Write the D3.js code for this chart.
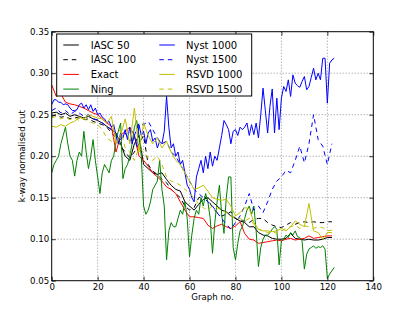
<!DOCTYPE html>
<html>
<head>
<meta charset="utf-8">
<script src="https://cdn.jsdelivr.net/npm/d3@7"></script>
<style>
  body { margin: 0; background: #fff; }
  text { font-family: "DejaVu Sans", sans-serif; fill: #000; }
</style>
</head>
<body>
<div id="chart"></div>
<script>
// values; x = index * step
const iasc50 = [0.252,0.253,0.250,0.252,0.248,0.250,0.248,0.246,0.248,0.245,0.243,0.240,0.236,0.232,0.228,0.215,0.200,0.195,0.215,0.225,
  0.190,0.185,0.180,0.178,0.180,0.172,0.165,0.160,0.158,0.145,0.140,0.135,0.142,0.148,0.150,0.145,0.140,0.135,0.133,0.128,
  0.125,0.122,0.120,0.115,0.115,0.108,0.105,0.104,0.101,0.100,0.100,0.101,0.107,0.101,0.100,0.099,0.100,0.099,0.099,0.100,0.102,0.102];
const iasc100 = [0.248,0.250,0.247,0.248,0.245,0.247,0.246,0.244,0.245,0.242,0.240,0.238,0.235,0.228,0.222,0.212,0.205,0.198,0.205,0.215,
  0.225,0.190,0.182,0.178,0.172,0.168,0.160,0.155,0.150,0.140,0.135,0.138,0.150,0.152,0.148,0.138,0.132,0.128,0.130,0.133,
  0.125,0.122,0.122,0.120,0.124,0.125,0.125,0.120,0.117,0.115,0.114,0.117,0.120,0.118,0.120,0.121,0.120,0.121,0.120,0.120,0.121,0.121];
const exact = [0.286,0.272,0.275,0.265,0.263,0.262,0.260,0.258,0.255,0.252,0.250,0.245,0.240,0.236,0.205,0.225,0.230,0.235,0.225,0.200,
  0.195,0.188,0.180,0.175,0.170,0.163,0.160,0.155,0.145,0.135,0.127,0.127,0.126,0.125,0.117,0.113,0.116,0.118,0.115,0.113,
  0.116,0.121,0.107,0.100,0.099,0.095,0.096,0.097,0.098,0.099,0.098,0.100,0.101,0.099,0.100,0.101,0.104,0.101,0.102,0.103,0.104,0.104];
const ning = [0.180,0.190,0.195,0.200,0.215,0.225,0.235,0.215,0.200,0.195,0.176,0.195,0.205,0.200,0.230,0.205,0.185,0.200,0.220,0.195,
  0.175,0.155,0.180,0.190,0.185,0.180,0.195,0.200,0.220,0.230,0.240,0.173,0.185,0.190,0.200,0.215,0.235,0.243,0.225,0.200,
  0.140,0.130,0.135,0.145,0.160,0.165,0.170,0.195,0.160,0.140,0.075,0.110,0.120,0.115,0.115,0.125,0.135,0.130,0.145,0.125,
  0.079,0.105,0.125,0.135,0.130,0.150,0.140,0.155,0.145,0.125,0.083,0.120,0.145,0.165,0.130,0.107,0.150,0.175,0.175,0.090,
  0.075,0.095,0.110,0.115,0.125,0.135,0.140,0.130,0.140,0.110,0.067,0.090,0.100,0.105,0.105,0.108,0.112,0.115,0.112,0.069,
  0.098,0.100,0.105,0.102,0.108,0.105,0.110,0.103,0.102,0.098,0.064,0.082,0.088,0.090,0.092,0.089,0.091,0.090,0.092,0.088,
  0.053,0.058,0.062,0.066];
const nyst1000 = [0.262,0.268,0.268,0.265,0.265,0.262,0.263,0.262,0.258,0.255,0.255,0.256,0.262,0.264,0.258,0.262,0.256,0.262,0.254,0.258,
  0.250,0.252,0.247,0.245,0.240,0.242,0.235,0.238,0.225,0.215,0.228,0.222,0.232,0.220,0.235,0.215,0.225,0.212,0.238,0.225,
  0.230,0.215,0.228,0.232,0.218,0.222,0.210,0.218,0.215,0.230,0.272,0.235,0.210,0.215,0.200,0.205,0.190,0.195,0.180,0.165,
  0.160,0.150,0.145,0.175,0.185,0.195,0.180,0.200,0.185,0.205,0.188,0.200,0.195,0.210,0.225,0.243,0.238,0.232,0.215,0.230,
  0.232,0.225,0.235,0.232,0.235,0.240,0.225,0.238,0.226,0.240,0.222,0.250,0.282,0.255,0.228,0.260,0.281,0.228,0.270,0.232,
  0.270,0.284,0.278,0.292,0.272,0.298,0.288,0.285,0.283,0.290,0.296,0.280,0.284,0.295,0.306,0.292,0.300,0.292,0.318,0.318,
  0.264,0.312,0.316,0.318];
const nyst1500 = [0.255,0.258,0.252,0.255,0.250,0.254,0.252,0.248,0.250,0.245,0.244,0.240,0.236,0.232,0.225,0.220,0.228,0.218,0.225,0.240,
  0.238,0.242,0.232,0.222,0.215,0.218,0.205,0.200,0.190,0.180,0.170,0.160,0.155,0.150,0.145,0.140,0.132,0.125,0.118,0.112,
  0.120,0.128,0.140,0.155,0.135,0.140,0.132,0.145,0.160,0.170,0.175,0.183,0.180,0.195,0.212,0.192,0.215,0.250,0.220,0.212,0.190,0.215];
const rsvd1000 = [0.236,0.235,0.238,0.236,0.240,0.242,0.247,0.245,0.250,0.248,0.246,0.245,0.240,0.248,0.215,0.225,0.245,0.215,0.258,0.205,
  0.240,0.225,0.215,0.222,0.210,0.218,0.205,0.195,0.190,0.180,0.170,0.160,0.162,0.165,0.158,0.150,0.148,0.147,0.148,0.140,
  0.128,0.132,0.138,0.137,0.120,0.112,0.110,0.110,0.109,0.110,0.113,0.110,0.115,0.122,0.118,0.115,0.143,0.110,0.108,0.100,0.108,0.108];
const rsvd1500 = [0.246,0.248,0.245,0.247,0.244,0.246,0.243,0.245,0.242,0.240,0.238,0.232,0.222,0.218,0.228,0.232,0.210,0.205,0.195,0.210,
  0.205,0.198,0.195,0.200,0.190,0.175,0.170,0.168,0.165,0.160,0.155,0.150,0.142,0.138,0.135,0.140,0.138,0.135,0.132,0.128,
  0.125,0.125,0.122,0.125,0.118,0.112,0.110,0.108,0.109,0.107,0.110,0.113,0.115,0.117,0.113,0.116,0.115,0.113,0.115,0.114,0.110,0.111];

const seriesNames = ['IASC 50', 'IASC 100', 'Exact', 'Ning', 'Nyst 1000', 'Nyst 1500', 'RSVD 1000', 'RSVD 1500'];
const seriesValues = [iasc50, iasc100, exact, ning, nyst1000, nyst1500, rsvd1000, rsvd1500];
const seriesStep = [2, 2, 2, 1, 1, 2, 2, 2];
const seriesColors = ['#000000', '#000000', '#ff0000', '#008000', '#0000ff', '#0000ff', '#bfbf00', '#bfbf00'];
const seriesDashed = [false, true, false, false, false, true, false, true];

const xTicks = [0, 20, 40, 60, 80, 100, 120, 140];
const yTicks = [0.05, 0.10, 0.15, 0.20, 0.25, 0.30, 0.35];

const width = 415, height = 312;
const plot = { left: 51.7, right: 373.3, top: 31.7, bottom: 280.7 };

const svg = d3.select('#chart').append('svg')
  .attr('width', width)
  .attr('height', height);

const x = d3.scaleLinear().domain([0, 140]).range([plot.left, plot.right]);
const y = d3.scaleLinear().domain([0.05, 0.35]).range([plot.bottom, plot.top]);

svg.append('defs').append('clipPath')
  .attr('id', 'plot-clip')
  .append('rect')
  .attr('x', plot.left).attr('y', plot.top)
  .attr('width', plot.right - plot.left)
  .attr('height', plot.bottom - plot.top);

// dotted grid
const grid = svg.append('g').attr('stroke', '#777').attr('stroke-width', 0.8).attr('stroke-dasharray', '1,2');
grid.selectAll('.gx').data(xTicks.slice(1, -1)).enter().append('line')
  .attr('x1', d => x(d)).attr('x2', d => x(d))
  .attr('y1', plot.top).attr('y2', plot.bottom);
grid.selectAll('.gy').data(yTicks.slice(1, -1)).enter().append('line')
  .attr('x1', plot.left).attr('x2', plot.right)
  .attr('y1', d => y(d)).attr('y2', d => y(d));

// series lines
const line = d3.line().x(d => x(d[0])).y(d => y(d[1]));
const lines = svg.append('g').attr('clip-path', 'url(#plot-clip)');
seriesValues.forEach((vals, i) => {
  const pts = vals.map((v, j) => [j * seriesStep[i], v]);
  lines.append('path')
    .datum(pts)
    .attr('d', line)
    .attr('fill', 'none')
    .attr('stroke', seriesColors[i])
    .attr('stroke-width', 1)
    .attr('stroke-linejoin', 'round')
    .attr('stroke-dasharray', seriesDashed[i] ? '4.5,4' : null);
});

// axes with inward ticks on all four sides
const xAxisB = d3.axisBottom(x).tickValues(xTicks).tickSize(-4).tickPadding(3.5).tickFormat(d3.format('d'));
const xAxisT = d3.axisTop(x).tickValues(xTicks).tickSize(-4).tickFormat('');
const yAxisL = d3.axisLeft(y).tickValues(yTicks).tickSize(-4).tickPadding(2.5).tickFormat(d3.format('.2f'));
const yAxisR = d3.axisRight(y).tickValues(yTicks).tickSize(-4).tickFormat('');

function styleAxis(g) {
  g.select('.domain').remove();
  g.selectAll('line').attr('stroke', '#000').attr('stroke-width', 0.8);
  g.selectAll('text').style('font-size', '8.6px').attr('font-family', '"DejaVu Sans", sans-serif');
}
svg.append('g').attr('transform', `translate(0,${plot.bottom})`).call(xAxisB).call(styleAxis);
svg.append('g').attr('transform', `translate(0,${plot.top})`).call(xAxisT).call(styleAxis);
svg.append('g').attr('transform', `translate(${plot.left},0)`).call(yAxisL).call(styleAxis);
svg.append('g').attr('transform', `translate(${plot.right},0)`).call(yAxisR).call(styleAxis);

svg.append('rect')
  .attr('x', plot.left).attr('y', plot.top)
  .attr('width', plot.right - plot.left)
  .attr('height', plot.bottom - plot.top)
  .attr('fill', 'none').attr('stroke', '#000').attr('stroke-width', 1);

// axis labels
svg.append('text')
  .attr('x', (plot.left + plot.right) / 2).attr('y', 300)
  .attr('text-anchor', 'middle')
  .style('font-size', '8.6px')
  .text('Graph no.');
svg.append('text')
  .attr('transform', `translate(25,${(plot.top + plot.bottom) / 2}) rotate(-90)`)
  .attr('text-anchor', 'middle')
  .style('font-size', '8.6px')
  .text('k-way normalised cut');

// legend
const legend = svg.append('g');
legend.append('rect')
  .attr('x', 56.7).attr('y', 34)
  .attr('width', 195).attr('height', 62)
  .attr('fill', '#fff').attr('stroke', '#000').attr('stroke-width', 1);
seriesNames.forEach((name, i) => {
  const col = Math.floor(i / 4), row = i % 4;
  const lx = col === 0 ? 63.3 : 159.3;
  const ly = 45 + row * 14.7;
  const item = legend.append('g').attr('transform', `translate(${lx},${ly})`);
  item.append('line')
    .attr('x1', 0).attr('x2', 15.5)
    .attr('stroke', seriesColors[i]).attr('stroke-width', 1)
    .attr('stroke-dasharray', seriesDashed[i] ? '4.5,4' : null);
  item.append('text')
    .attr('x', col === 0 ? 27.4 : 26.7).attr('y', 3.6)
    .style('font-size', '10px')
    .text(name);
});
</script>
</body>
</html>
